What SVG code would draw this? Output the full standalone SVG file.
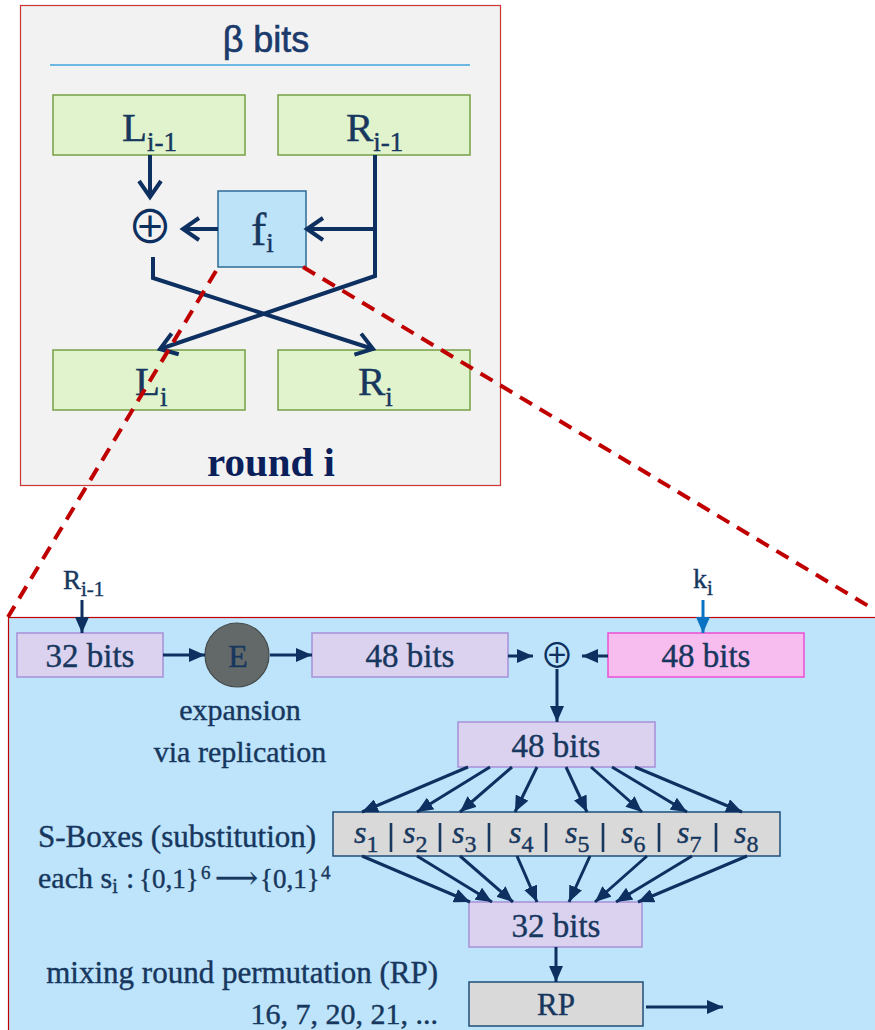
<svg xmlns="http://www.w3.org/2000/svg" width="875" height="1030" viewBox="0 0 875 1030">
  <style>
    .serif { font-family: "Liberation Serif", "DejaVu Serif", serif; fill: #17375e; stroke: #17375e; stroke-width: 0.4; }
    .sans { font-family: "Liberation Sans", Arial, sans-serif; }
    .green { fill: #e0f3cc; stroke: #76a046; stroke-width: 1.5; }
    .lav { fill: #dad2ee; stroke: #a690d8; stroke-width: 1.5; }
    .grey { fill: #d9d9d9; stroke: #1f4e79; stroke-width: 1.5; }
    .wire { fill: none; stroke: #0d3060; stroke-width: 4; stroke-linejoin: miter; }
    .flow { fill: none; stroke: #0d3060; stroke-width: 3; marker-end: url(#tri); }
    .dash { fill: none; stroke: #c00000; stroke-width: 4; stroke-dasharray: 14 9; }
    .c { text-anchor: middle; }
    .xor { font-family: "Noto Sans CJK JP", "DejaVu Sans", sans-serif; font-weight: 400; fill: #0d3060; text-anchor: middle; }
  </style>
  <defs>
    <marker id="chev" viewBox="0 0 20 26" refX="18" refY="13" markerWidth="20" markerHeight="26" markerUnits="userSpaceOnUse" orient="auto" overflow="visible">
      <path d="M2,2 L18,13 L2,24" fill="none" stroke="#0d3060" stroke-width="4"/>
    </marker>
    <marker id="tri" viewBox="0 0 16 14" refX="16" refY="7" markerWidth="16" markerHeight="14" markerUnits="userSpaceOnUse" orient="auto">
      <path d="M0,0 L16,7 L0,14 z" fill="#0d3060"/>
    </marker>
    <marker id="triBlue" viewBox="0 0 16 14" refX="16" refY="7" markerWidth="16" markerHeight="14" markerUnits="userSpaceOnUse" orient="auto">
      <path d="M0,0 L16,7 L0,14 z" fill="#0a72c2"/>
    </marker>
  </defs>

  <!-- Feistel round frame -->
  <g id="round-frame">
    <rect x="20.5" y="5.5" width="480" height="480" fill="#f2f2f2" stroke="#cc3333" stroke-width="1.2"/>
    <text x="266" y="52" class="sans c" font-size="36" fill="#1b3a6b" stroke="#1b3a6b" stroke-width="0.6">β bits</text>
    <line x1="50" y1="65" x2="470" y2="65" stroke="#3ea6dc" stroke-width="1.5"/>
    <text x="271" y="476" class="serif c" font-size="41" font-weight="bold" style="fill:#0b1f5b;stroke:none">round i</text>
  </g>

  <g id="L-prev">
    <rect x="53" y="95" width="192" height="60" class="green"/>
    <text x="122" y="141" class="serif" font-size="41">L<tspan dy="10" font-size="27">i-1</tspan></text>
  </g>
  <g id="R-prev">
    <rect x="278" y="95" width="192" height="60" class="green"/>
    <text x="346" y="141" class="serif" font-size="41">R<tspan dy="10" font-size="27">i-1</tspan></text>
  </g>
  <g id="f-box">
    <rect x="218" y="191" width="88" height="76" fill="#bde3f8" stroke="#2e6b96" stroke-width="1.5"/>
    <text x="251" y="245" class="serif" font-size="46">f<tspan dy="7" font-size="27">i</tspan></text>
  </g>
  <g id="xor-top">
    <text x="150" y="243" class="xor" font-size="46">⊕</text>
  </g>
  <g id="L-next">
    <rect x="53" y="350" width="192" height="60" class="green"/>
    <text x="135" y="395" class="serif" font-size="41">L<tspan dy="11" font-size="27">i</tspan></text>
  </g>
  <g id="R-next">
    <rect x="278" y="350" width="192" height="60" class="green"/>
    <text x="358" y="395" class="serif" font-size="41">R<tspan dy="11" font-size="27">i</tspan></text>
  </g>

  <!-- round wiring -->
  <g id="round-connectors">
    <path class="wire" d="M150,155 V197" marker-end="url(#chev)"/>
    <path class="wire" d="M375,155 V276 L160,349" marker-end="url(#chev)"/>
    <path class="wire" d="M375,229 H307" marker-end="url(#chev)"/>
    <path class="wire" d="M218,229 H183" marker-end="url(#chev)"/>
    <path class="wire" d="M153,257 V278 L373,349" marker-end="url(#chev)"/>
  </g>

  <!-- detail panel for f -->
  <g id="f-panel">
    <rect x="8.5" y="617.5" width="880" height="430" fill="#bde4fb" stroke="#c00000" stroke-width="1.2"/>
  </g>

  <g id="in-R">
    <text x="63" y="589" class="serif" font-size="27">R<tspan dy="7" font-size="21">i-1</tspan></text>
  </g>
  <g id="in-k">
    <text x="693" y="588" class="serif" font-size="28">k<tspan dy="7" font-size="21">i</tspan></text>
  </g>
  <g id="bits32-in">
    <rect x="17" y="633" width="146" height="44" class="lav"/>
    <text x="90" y="667" class="serif c" font-size="33">32 bits</text>
  </g>
  <g id="expand">
    <circle cx="237" cy="655" r="32" fill="#636868" stroke="#444a4a" stroke-width="1.2"/>
    <text x="238" y="667" class="serif c" font-size="32">E</text>
    <text x="240" y="720" class="serif c" font-size="30">expansion</text>
    <text x="240" y="762" class="serif c" font-size="30">via replication</text>
  </g>
  <g id="bits48-exp">
    <rect x="312" y="633" width="196" height="44" class="lav"/>
    <text x="410" y="667" class="serif c" font-size="33">48 bits</text>
  </g>
  <g id="xor-key">
    <text x="557" y="668" class="xor" font-size="34">⊕</text>
  </g>
  <g id="bits48-key">
    <rect x="608" y="633" width="196" height="44" fill="#f7bdee" stroke="#ec4fd4" stroke-width="1.5"/>
    <text x="706" y="667" class="serif c" font-size="33">48 bits</text>
  </g>
  <g id="bits48-mix">
    <rect x="458" y="722" width="197" height="45" class="lav"/>
    <text x="556" y="757" class="serif c" font-size="33">48 bits</text>
  </g>
  <g id="sboxes">
    <rect x="333" y="812" width="447" height="44" class="grey"/>
    <g class="serif" font-size="32">
      <text x="354" y="843" font-style="italic">s<tspan dy="9" font-size="24" font-style="normal">1</tspan></text>
      <text x="403" y="843" font-style="italic">s<tspan dy="9" font-size="24" font-style="normal">2</tspan></text>
      <text x="452" y="843" font-style="italic">s<tspan dy="9" font-size="24" font-style="normal">3</tspan></text>
      <text x="509" y="843" font-style="italic">s<tspan dy="9" font-size="24" font-style="normal">4</tspan></text>
      <text x="565" y="843" font-style="italic">s<tspan dy="9" font-size="24" font-style="normal">5</tspan></text>
      <text x="621" y="843" font-style="italic">s<tspan dy="9" font-size="24" font-style="normal">6</tspan></text>
      <text x="677" y="843" font-style="italic">s<tspan dy="9" font-size="24" font-style="normal">7</tspan></text>
      <text x="734" y="843" font-style="italic">s<tspan dy="9" font-size="24" font-style="normal">8</tspan></text>
    </g>
    <g stroke="#17375e" stroke-width="2.6">
      <line x1="391" y1="823" x2="391" y2="852"/>
      <line x1="440" y1="823" x2="440" y2="852"/>
      <line x1="489" y1="823" x2="489" y2="852"/>
      <line x1="546" y1="823" x2="546" y2="852"/>
      <line x1="603" y1="823" x2="603" y2="852"/>
      <line x1="659" y1="823" x2="659" y2="852"/>
      <line x1="716" y1="823" x2="716" y2="852"/>
    </g>
    <text x="38" y="847" class="serif" font-size="31">S-Boxes (substitution)</text>
    <text x="38" y="888" class="serif" font-size="30">each s<tspan dy="5" font-size="20">i</tspan><tspan x="126" dy="-5">:</tspan><tspan x="139" font-size="27">{0,1}</tspan><tspan x="201" dy="-9" font-size="19">6</tspan><tspan x="215" dy="9">⟶</tspan><tspan x="260" font-size="27">{0,1}</tspan><tspan x="321" dy="-9" font-size="19">4</tspan></text>
  </g>
  <g id="bits32-out">
    <rect x="469" y="902" width="173" height="45" class="lav"/>
    <text x="556" y="937" class="serif c" font-size="33">32 bits</text>
  </g>
  <g id="rp">
    <rect x="469" y="982" width="174" height="44" class="grey"/>
    <text x="556" y="1015" class="serif c" font-size="31">RP</text>
    <text x="438" y="983" class="serif" font-size="31" text-anchor="end">mixing round permutation (RP)</text>
    <text x="438" y="1024" class="serif" font-size="30" text-anchor="end">16, 7, 20, 21, ...</text>
  </g>

  <!-- data flow inside f -->
  <g id="f-connectors">
    <path class="flow" d="M82,600 V633"/>
    <path class="flow" d="M163,655 H205"/>
    <path class="flow" d="M270,655 H312"/>
    <path class="flow" d="M508,656 H533"/>
    <path class="flow" d="M608,656 H582"/>
    <path d="M703,600 V633" fill="none" stroke="#0a72c2" stroke-width="3" marker-end="url(#triBlue)"/>
    <path class="flow" d="M557,669 V722"/>
    <path class="flow" d="M468,767 L362,812"/>
    <path class="flow" d="M490,767 L417,812"/>
    <path class="flow" d="M512,767 L460,812"/>
    <path class="flow" d="M537,767 L515,812"/>
    <path class="flow" d="M566,767 L587,812"/>
    <path class="flow" d="M591,767 L642,812"/>
    <path class="flow" d="M612,767 L687,812"/>
    <path class="flow" d="M635,767 L742,812"/>
    <path class="flow" d="M362,856 L470,902"/>
    <path class="flow" d="M417,856 L492,902"/>
    <path class="flow" d="M460,856 L513,902"/>
    <path class="flow" d="M517,856 L537,902"/>
    <path class="flow" d="M590,856 L569,902"/>
    <path class="flow" d="M647,856 L595,902"/>
    <path class="flow" d="M692,856 L616,902"/>
    <path class="flow" d="M747,856 L638,902"/>
    <path class="flow" d="M556,947 V982"/>
    <path class="flow" d="M646,1007 H723"/>
  </g>

  <!-- zoom guides from f to its detail panel -->
  <g id="zoom-guides">
    <path class="dash" d="M216,271 L8,617"/>
    <path class="dash" d="M303,267 L875,610"/>
  </g>
</svg>
